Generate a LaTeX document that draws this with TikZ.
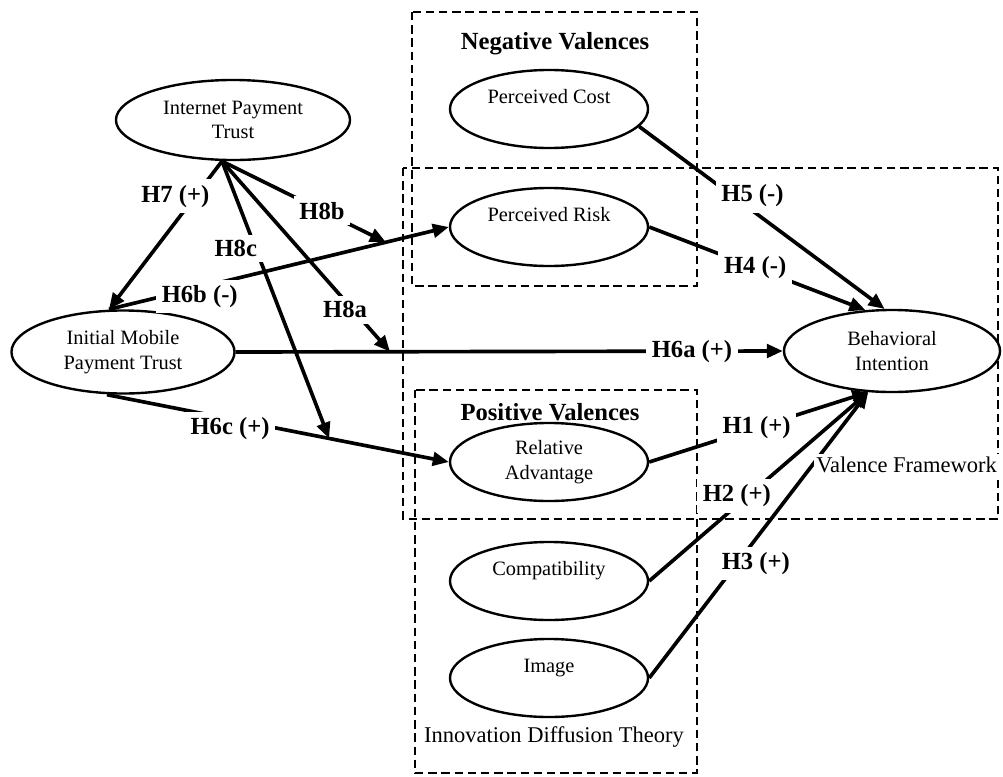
\documentclass[tikz,border=0pt]{standalone}
\usepackage{fontspec}
\setmainfont{Liberation Serif}
\usepackage{tikz}
\usetikzlibrary{arrows.meta, shapes.geometric, calc}

\begin{document}
\begin{tikzpicture}[x=0.025cm, y=-0.025cm,
  every node/.style={font=\fontsize{14.5}{17.5}\selectfont},
  construct/.style={draw, ellipse, fill=white, line width=1.7pt, inner sep=0pt,
    align=center, minimum width=4.95cm, minimum height=1.95cm},
  theorybox/.style={draw, line width=2pt, dash pattern=on 0.21cm off 0.12cm},
  link/.style={line width=2.6pt, -{Triangle[length=0.4cm, width=0.34cm]}},
  hyp/.style={fill=white, inner xsep=4pt, inner ysep=4pt,
    font=\bfseries\fontsize{17.5}{20}\selectfont},
  heading/.style={font=\bfseries\fontsize{17.5}{20}\selectfont},
  theory/.style={font=\fontsize{16}{19}\selectfont}]
  \useasboundingbox (0,0) rectangle (1003,776);
  % theory frames
  \draw[theorybox] (412,12) rectangle (697,286);
  \draw[theorybox] (403,168) rectangle (998,519);
  \draw[theorybox] (415,390) rectangle (697,773);
  \node[heading] (negv) at (555,44) {Negative Valences};
  \node[heading] (posv) at (550,412) {Positive Valences};
  \node[theory] (idt) at (554,737) {Innovation Diffusion Theory};
  % constructs
  \node[construct, minimum width=5.85cm, minimum height=2cm] (ipt) at (233,120) {Internet Payment\\Trust};
  \node[construct, minimum width=5.575cm, minimum height=2.075cm] (impt) at (123,352) {Initial Mobile\\Payment Trust};
  \node[construct, minimum width=5.4cm, minimum height=2.05cm] (bi) at (892,351) {Behavioral\\Intention};
  \node[construct] (pc) at (549,109) {Perceived Cost\\\phantom{X}};
  \node[construct] (pr) at (549,227) {Perceived Risk\\\phantom{X}};
  \node[construct] (ra) at (549,462) {Relative\\Advantage};
  \node[construct] (comp) at (549,581) {Compatibility\\\phantom{X}};
  \node[construct] (img) at (549,678) {Image\\\phantom{X}};
  \coordinate (ipt-b) at ([xshift=-0.275cm]ipt.south);
  \coordinate (impt-t) at ([xshift=-0.35cm]impt.north);
  \coordinate (impt-b) at ([xshift=-0.4cm]impt.south);
  % initial trust paths
  \draw[link] (impt.east) -- coordinate[pos=0.282] (h6a-m)
    node[hyp, pos=0.834] {H6a (+)} (bi.west);
  \draw[link] (impt-t) -- coordinate[pos=0.815] (h6b-m)
    node[hyp, pos=0.267, yshift=-0.225cm] {H6b (-)} (pr.west);
  \draw[link] (impt-b) -- coordinate[pos=0.65] (h6c-m)
    node[hyp, pos=0.36, yshift=-0.25cm] {H6c (+)} (ra.west);
  % moderating paths
  \draw[link] (ipt-b) -- node[hyp, pos=0.61] {H8b} (h6b-m);
  \draw[link] (ipt-b) -- node[hyp, pos=0.78, xshift=-0.2cm] {H8a} (h6a-m);
  \draw[link] (ipt-b) -- node[hyp, pos=0.315, xshift=-0.5cm] {H8c} (h6c-m);
  \draw[link] (ipt-b) -- node[hyp, pos=0.236, xshift=-0.5cm] {H7 (+)} (impt-t);
  % valence paths
  \draw[link] (pc.-11) -- node[hyp, pos=0.38, xshift=0.5cm] {H5 (-)} (bi.100);
  \draw[link] (pr.east) -- node[hyp, pos=0.49] {H4 (-)} (bi.123);
  \draw[link] (ra.east) -- node[hyp, pos=0.49] {H1 (+)} (bi.240);
  \draw[link] (comp.east) -- node[hyp, pos=0.45, xshift=-0.275cm] {H2 (+)} (bi.240);
  \draw[link] (img.east) -- node[hyp, pos=0.40, xshift=0.475cm] {H3 (+)} (bi.240);
  \node[theory, fill=white, inner sep=2pt, anchor=east] (vf) at (1000,465) {Valence Framework};
\end{tikzpicture}
\end{document}
